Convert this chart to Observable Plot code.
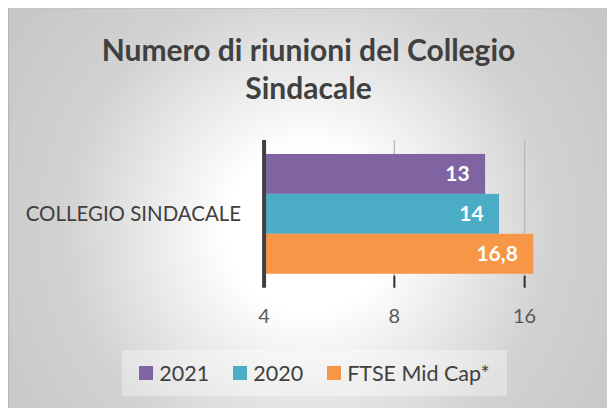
<!DOCTYPE html>
<html>
<head>
<meta charset="utf-8">
<script src="https://cdn.jsdelivr.net/npm/d3@7"></script>
<script src="https://cdn.jsdelivr.net/npm/@observablehq/plot@0.6"></script>
<style>
  html, body { margin: 0; padding: 0; background: #ffffff; width: 607px; height: 408px; overflow: hidden; }
  #panel {
    position: absolute; left: 8px; top: 8px; width: 598px; height: 400px;
    border-left: 1px solid #b4b4b4; border-top: 1px solid #c4c4c4;
    background: radial-gradient(circle at 50% 55%, #ffffff 0%, #ffffff 22%, #d2d2d2 65%, #c6c6c6 100%);
    font-family: Lato, "Open Sans", sans-serif; color: #404040;
  }
  #title {
    position: absolute; left: 0; top: 21px; width: 599px; text-align: center;
    font-size: 30px; font-weight: bold; line-height: 38px; color: #404040;
  }
  #chart { position: absolute; left: 0; top: 117px; }
  #legend {
    position: absolute; left: 113px; top: 341px; width: 385px; height: 46px;
    background: rgba(255,255,255,0.35);
    display: flex; align-items: center; justify-content: center; gap: 24px;
    font-size: 21.5px; color: #404040;
  }
  .item { display: flex; align-items: center; }
  .sw { width: 14px; height: 14px; margin-right: 6px; }
</style>
</head>
<body>
<div id="panel">
  <div id="title">Numero di riunioni del Collegio<br>Sindacale</div>
  <div id="chart"></div>
  <div id="legend"></div>
</div>
<script>
const category = "COLLEGIO SINDACALE";
const series = ["2021", "2020", "FTSE Mid Cap*"];
const values = [13, 14, 16.8];
const labels = ["13", "14", "16,8"];
const colors = ["#8064a2", "#4bacc6", "#f79646"];
const xTicks = [4, 8, 16];

const data = series.map((s, i) => ({series: s, value: values[i], label: labels[i]}));

const chart = Plot.plot({
  width: 599,
  height: 210,
  marginLeft: 255,
  marginRight: 83,
  marginTop: 14,
  marginBottom: 48,
  style: {background: "transparent", fontFamily: "Lato, 'Open Sans', sans-serif"},
  x: {type: "log", base: 2, domain: [4, 16], ticks: xTicks, tickFormat: d => String(d), label: null},
  y: {domain: series, paddingInner: 0, paddingOuter: 0.32, axis: null},
  color: {domain: series, range: colors},
  marks: [
    Plot.ruleX(xTicks.slice(1), {stroke: "#bdbdbd", strokeWidth: 1.5}),
    Plot.ruleX(xTicks.slice(1), {stroke: "#303030", strokeWidth: 2, insetTop: 136}),
    Plot.barX(data, {y: "series", x1: () => xTicks[0], x2: "value", fill: "series"}),
    Plot.text(data, {y: "series", x: "value", text: "label", textAnchor: "end", dx: -16,
      fill: "white", fontWeight: "bold", fontSize: 21}),
    Plot.ruleX([xTicks[0]], {stroke: "#404040", strokeWidth: 4}),
    Plot.text([category], {frameAnchor: "left", textAnchor: "end", dx: -23, fill: "#404040", fontSize: 20.5}),
    Plot.axisX(xTicks, {tickSize: 0, tickPadding: 21, fontSize: 20, fill: "#595959", label: null, tickFormat: d => String(d)})
  ]
});
document.getElementById("chart").appendChild(chart);

const legend = document.getElementById("legend");
series.forEach((s, i) => {
  const it = document.createElement("div");
  it.className = "item";
  const sw = document.createElement("div");
  sw.className = "sw";
  sw.style.background = colors[i];
  const t = document.createElement("span");
  t.textContent = s;
  it.appendChild(sw); it.appendChild(t);
  legend.appendChild(it);
});
</script>
</body>
</html>
